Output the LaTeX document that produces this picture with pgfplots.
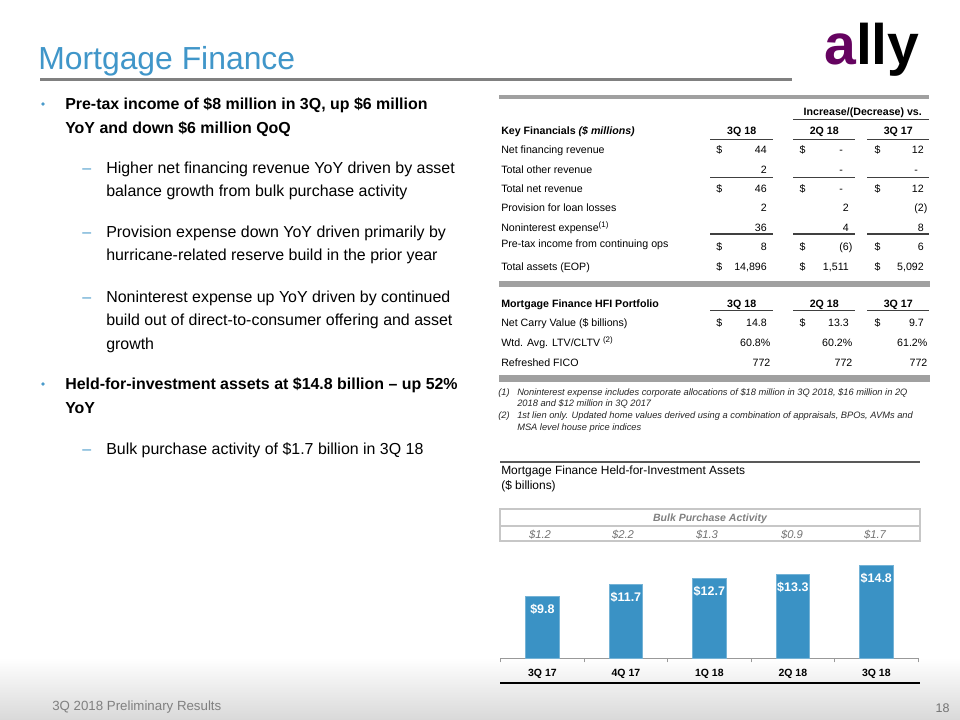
\documentclass[border=0pt]{standalone}
\usepackage{pgfplots}
\pgfplotsset{compat=1.18}
\usepackage{fontspec}
\setmainfont{Liberation Sans}
\definecolor{titleblue}{HTML}{4096C9}
\definecolor{barblue}{HTML}{3A92C5}
\definecolor{bulletblue}{HTML}{4A9BCB}
\definecolor{allypurple}{HTML}{650360}
\definecolor{tgray}{HTML}{A0A0A0}
\definecolor{lgray}{HTML}{404040}
\newcommand\fs[1]{\fontsize{#1pt}{#1pt}\selectfont}
\newcommand\trow[9]{%
  \node[tl] at (501,#1) {#3};
  \node[tl] at (716,#2) {#4};
  \node[tr] at (770.6,#2) {#5};
  \node[tl] at (799.3,#2) {#6};
  \node[tr] at (852.6,#2) {#7};
  \node[tl] at (874.3,#2) {#8};
  \node[tr] at (927.6,#2) {#9};
}
\begin{document}
\begin{tikzpicture}
\fill[white] (0,0) rectangle (720bp,-540bp);
\path[use as bounding box] (0,0) rectangle (720bp,-540bp);
\begin{scope}[x=0.75bp,y=-0.75bp,
  tl/.style={anchor=base west, inner sep=0, font=\fs{8}},
  tr/.style={anchor=base east, inner sep=0, font=\fs{8}},
  tc/.style={anchor=base, inner sep=0, font=\fs{8}},
  fl/.style={anchor=base west, inner sep=0, font=\fs{7}\itshape, text=black!85},
  lt/.style={anchor=base west, inner sep=0, font=\fs{12}},
  ul/.style={draw=lgray, line width=0.75bp}]
% bottom gradient
\shade[top color=white, bottom color=black!15] (0,658) rectangle (960,720);
% title
\node[anchor=base west, inner sep=0, text=titleblue, font=\fs{24}] at (38,69) {Mortgage Finance};
\fill[black!50] (40,77.5) rectangle (792,80.5);
% logo
\node[anchor=base west, inner sep=0, font=\fs{43}\bfseries] at (824,64) {\textcolor{allypurple}{a}\textcolor{black}{lly}};
% left text
\fill[bulletblue] (43,104) circle (1.8);
\node[lt, font=\fs{12}\bfseries] at (65,109.7) {Pre-tax income of \$8 million in 3Q, up \$6 million};
\node[lt, font=\fs{12}\bfseries] at (65,133) {YoY and down \$6 million QoQ};
\node[lt, text=bulletblue] at (82,173) {–};
\node[lt] at (106,173) {Higher net financing revenue YoY driven by asset};
\node[lt] at (106,196.4) {balance growth from bulk purchase activity};
\node[lt, text=bulletblue] at (82,237.4) {–};
\node[lt] at (106,237.4) {Provision expense down YoY driven primarily by};
\node[lt] at (106,260.7) {hurricane-related reserve build in the prior year};
\node[lt, text=bulletblue] at (82,302.4) {–};
\node[lt] at (106,302.4) {Noninterest expense up YoY driven by continued};
\node[lt] at (106,325.7) {build out of direct-to-consumer offering and asset};
\node[lt] at (106,349) {growth};
\fill[bulletblue] (43,384) circle (1.8);
\node[lt, font=\fs{12}\bfseries] at (65,389.7) {Held-for-investment assets at \$14.8 billion – up 52\%};
\node[lt, font=\fs{12}\bfseries] at (65,413.4) {YoY};
\node[lt, text=bulletblue] at (82,454) {–};
\node[lt] at (106,454) {Bulk purchase activity of \$1.7 billion in 3Q 18};
% table
\fill[tgray] (499,95) rectangle (929,98.5);
\node[tc, font=\fs{8}\bfseries] at (862.8,115.8) {Increase/(Decrease) vs.};
\draw[ul] (793,119.3) -- (929,119.3);
\node[tl, font=\fs{8}\bfseries] at (501,134.8) {Key Financials \textit{(\$ millions)}};
\node[tc, font=\fs{8}\bfseries] at (741.7,134.8) {3Q 18};
\node[tc, font=\fs{8}\bfseries] at (824.3,134.8) {2Q 18};
\node[tc, font=\fs{8}\bfseries] at (898.3,134.8) {3Q 17};
\foreach \yy in {139,177.3,310.7} {
  \draw[ul] (710,\yy) -- (772.7,\yy);
  \draw[ul] (793,\yy) -- (855,\yy);
  \draw[ul] (867,\yy) -- (929,\yy);
}
\draw[ul, line width=1.5bp] (710,234.3) -- (772.7,234.3);
\draw[ul, line width=1.5bp] (793,234.3) -- (855,234.3);
\draw[ul, line width=1.5bp] (867,234.3) -- (929,234.3);
\trow{153.8}{153.8}{Net financing revenue}{\$}{44\phantom{)}}{\$}{-\phantom{0)}}{\$}{12\phantom{)}}
\trow{173}{173}{Total other revenue}{}{2\phantom{)}}{}{-\phantom{0)}}{}{-\phantom{0)}}
\trow{192.5}{192.5}{Total net revenue}{\$}{46\phantom{)}}{\$}{-\phantom{0)}}{\$}{12\phantom{)}}
\trow{211.8}{211.8}{Provision for loan losses}{}{2\phantom{)}}{}{2\phantom{)}}{}{(2)}
\trow{231}{231}{Noninterest expense\textsuperscript{(1)}}{}{36\phantom{)}}{}{4\phantom{)}}{}{8\phantom{)}}
\trow{247.8}{250.5}{Pre-tax income from continuing ops}{\$}{8\phantom{)}}{\$}{(6)}{\$}{6\phantom{)}}
\trow{270.5}{270.5}{Total assets (EOP)}{\$}{14,896\phantom{)}}{\$}{1,511\phantom{)}}{\$}{5,092\phantom{)}}
\fill[tgray] (499,281) rectangle (930,287.3);
\node[tl, font=\fs{8}\bfseries] at (501,307) {Mortgage Finance HFI Portfolio};
\node[tc, font=\fs{8}\bfseries] at (741.7,307) {3Q 18};
\node[tc, font=\fs{8}\bfseries] at (824.3,307) {2Q 18};
\node[tc, font=\fs{8}\bfseries] at (898.3,307) {3Q 17};
\trow{326}{326}{Net Carry Value (\$ billions)}{\$}{14.8\phantom{)}}{\$}{13.3\phantom{)}}{\$}{9.7\phantom{)}}
\trow{346}{346}{Wtd. Avg. LTV/CLTV \textsuperscript{(2)}}{}{60.8\%}{}{60.2\%}{}{61.2\%}
\trow{366}{366}{Refreshed FICO}{}{772}{}{772}{}{772}
\fill[tgray] (499,375) rectangle (930,381.7);
% footnotes
\node[fl] at (498,395.6) {(1)};
\node[fl] at (517,395.6) {Noninterest expense includes corporate allocations of \$18 million in 3Q 2018, \$16 million in 2Q};
\node[fl] at (517,406) {2018 and \$12 million in 3Q 2017};
\node[fl] at (498,418.3) {(2)};
\node[fl] at (517,418.3) {1st lien only. Updated home values derived using a combination of appraisals, BPOs, AVMs and};
\node[fl] at (517,430) {MSA level house price indices};
% chart header
\draw[black!65, line width=1.5bp] (500,462) -- (920,462);
\node[anchor=base west, inner sep=0, font=\fs{9}] at (501,474.3) {Mortgage Finance Held-for-Investment Assets};
\node[anchor=base west, inner sep=0, font=\fs{9}] at (501,489.3) {(\$ billions)};
\draw[black!22, line width=1bp] (500,509) rectangle (920,541);
\draw[black!22, line width=1bp] (500,526) -- (920,526);
\node[anchor=base, inner sep=0, font=\fs{7.9}\bfseries\itshape, text=black!50] at (710,521.4) {Bulk Purchase Activity};
\foreach \xx/\vv in {540/1.2, 623/2.2, 707/1.3, 792/0.9, 875/1.7}
  \node[anchor=base, inner sep=0, font=\fs{8.5}\itshape, text=black!55] at (\xx,538) {\$\vv};
% bottom
\draw[black, line width=1.5bp] (500,682.7) -- (920,682.7);
\node[anchor=base west, inner sep=0, font=\fs{10}, text=black!50] at (52,710.8) {3Q 2018 Preliminary Results};
\node[anchor=base, inner sep=0, font=\fs{9.4}, text=black!55] at (942.5,712) {18};
\coordinate (A) at (500.7,658.3);
\end{scope}
\begin{axis}[
  at={(A)}, anchor=south west, scale only axis,
  width=313bp, height=75.6bp,
  xmin=-0.5, xmax=4.5, ymin=0, ymax=16,
  axis x line*=bottom, axis y line=none,
  x axis line style={draw=black!40, line width=0.75bp},
  xtick={0,1,2,3,4}, xticklabels={3Q 17,4Q 17,1Q 18,2Q 18,3Q 18},
  major tick length=0pt,
  minor xtick={-0.5,0.5,1.5,2.5,3.5,4.5},
  minor tick length=3bp, xtick align=outside,
  minor tick style={draw=black!40, line width=0.6bp},
  xticklabel style={font=\fs{7.9}\bfseries, text=black, yshift=-4.5bp},
  clip=false,
  /pgf/number format/assume math mode=true,
]
\addplot[ybar, bar width=25bp, fill=barblue, draw=barblue!70!white, line width=0.5bp,
  nodes near coords={\$\pgfmathprintnumber[fixed,fixed zerofill,precision=1]{\pgfplotspointmeta}},
  every node near coord/.append style={anchor=center, yshift=-9.75bp, font=\fs{9.4}\bfseries, text=white}]
  coordinates {(0,9.8) (1,11.7) (2,12.7) (3,13.3) (4,14.8)};
\end{axis}
\end{tikzpicture}
\end{document}
